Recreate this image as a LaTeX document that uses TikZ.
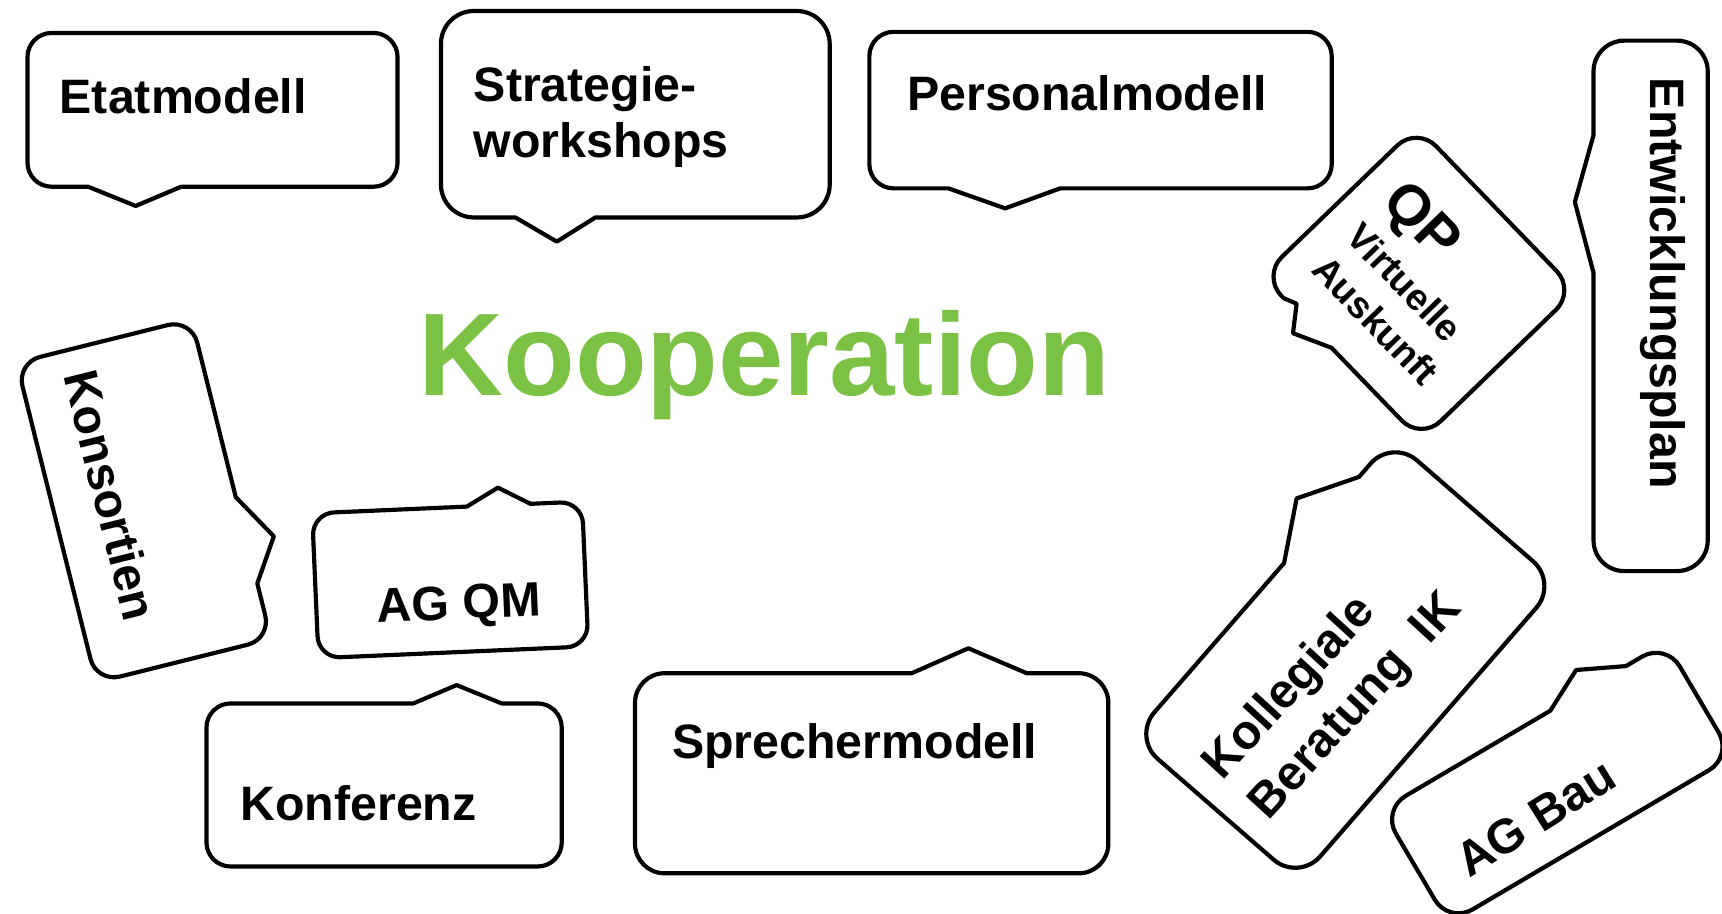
\documentclass[tikz,border=0pt]{standalone}
\usepackage{fontspec}
\setmainfont{Liberation Sans}
\usepackage{pdfrender}
\usetikzlibrary{shadows}
\definecolor{koopgreen}{HTML}{7BC144}
\definecolor{koopdark}{HTML}{4E8E2A}
\tikzset{
  bx/.style={draw=black, line width=1.9pt, fill=white, line join=round,
    drop shadow={shadow xshift=0.7pt, shadow yshift=-0.7pt, opacity=0.35, fill=black}},
  lbl/.style={inner sep=0pt, font=\bfseries\fontsize{22}{26}\selectfont, text=black},
  smalllbl/.style={inner sep=0pt, font=\bfseries\fontsize{17}{21.5}\selectfont, text=black},
  bigword/.style={inner sep=0pt, anchor=base, font=\bfseries\fontsize{53.5}{60}\selectfont},
}
\begin{document}
\begin{tikzpicture}[x=0.5pt,y=-0.5pt]
\useasboundingbox (0,0) rectangle (1568,832);
\fill[white] (0,0) rectangle (1568,832);

% Etatmodell
\begin{scope}[shift={(193.5,100)}]
\draw[bx] (0,-70) [rounded corners=11pt] -- (168.5,-70) -- (168.5,70) [sharp corners] -- (-28.5,70) -- (-70,87.5) -- (-113.2,70) [rounded corners=11pt] -- (-168.5,70) -- (-168.5,-70) -- cycle;
\end{scope}
\node[lbl, anchor=base west] (etat) at (54,103) {Etatmodell};

% Strategie-workshops
\begin{scope}[shift={(578.5,104)}]
\draw[bx] (0,-94) [rounded corners=15pt] -- (177,-94) -- (177,94) [sharp corners] -- (-36.4,94) -- (-71.5,116) -- (-109.2,94) [rounded corners=15pt] -- (-177,94) -- (-177,-94) -- cycle;
\end{scope}
\node[lbl, anchor=base west] (strat1) at (431,92) {Strategie-};
\node[lbl, anchor=base west] (strat2) at (431,143) {workshops};

% Personalmodell
\begin{scope}[shift={(1002.1,100.25)}]
\draw[bx] (0,-71.25) [rounded corners=11pt] -- (210.5,-71.25) -- (210.5,71.25) [sharp corners] -- (-36.8,71.25) -- (-86.9,89.45) -- (-138.5,71.25) [rounded corners=11pt] -- (-210.5,71.25) -- (-210.5,-71.25) -- cycle;
\end{scope}
\node[lbl, anchor=base west] (pers) at (825.6,100.2) {Personalmodell};

% Entwicklungsplan
\begin{scope}[shift={(1503,278.5)}]
\draw[bx] (0,-241.5) [rounded corners=14pt] -- (52,-241.5) -- (52,241.5) -- (-52,241.5) [sharp corners] -- (-52,-30.1) -- (-69,-94.5) -- (-52,-155.5) [rounded corners=14pt] -- (-52,-241.5) -- cycle;
\end{scope}
\node[lbl, rotate=-90] (entw) at (1514,258) {Entwicklungsplan};

% Konsortien
\begin{scope}[shift={(131,456)},rotate=14]
\draw[bx] (0,-150) [rounded corners=11pt] -- (82,-150) [sharp corners] -- (82,17) -- (107,60) -- (82,98) [rounded corners=11pt] -- (82,150) -- (-82,150) -- (-82,-150) -- cycle;
\node[lbl, rotate=-76] (kons) at (-28,-12) {Konsortien};
\end{scope}

% AG QM
\begin{scope}[shift={(410,528)},rotate=2.5]
\draw[bx] (0,66) [rounded corners=10pt] -- (-123,66) -- (-123,-66) [sharp corners] -- (18,-66) -- (47,-82) -- (76,-66) [rounded corners=10pt] -- (123,-66) -- (123,66) -- cycle;
\node[lbl, rotate=2.5] (agqm) at (7,25) {AG QM};
\end{scope}

% Konferenz
\begin{scope}[shift={(349.75,714.75)}]
\draw[bx] (0,74.25) [rounded corners=11pt] -- (-161.75,74.25) -- (-161.75,-74.25) [sharp corners] -- (26.65,-74.25) -- (66.05,-90.95) -- (107.05,-74.25) [rounded corners=11pt] -- (161.75,-74.25) -- (161.75,74.25) -- cycle;
\end{scope}
\node[lbl, anchor=base west] (konf) at (218.5,746.7) {Konferenz};

% Sprechermodell
\begin{scope}[shift={(793.7,704.1)}]
\draw[bx] (0,91.1) [rounded corners=13.5pt] -- (-215.5,91.1) -- (-215.5,-91.1) [sharp corners] -- (36.5,-91.1) -- (88,-113.8) -- (141.2,-91.1) [rounded corners=13.5pt] -- (215.5,-91.1) -- (215.5,91.1) -- cycle;
\end{scope}
\node[lbl, anchor=base west] (sprech) at (611.6,690.5) {Sprechermodell};

% QP Virtuelle Auskunft
\begin{scope}[shift={(1292,258)},rotate=-46]
\draw[bx] (0,-98) [rounded corners=12.5pt] -- (104,-98) -- (104,98) [sharp corners] -- (-13,98) -- (-47,114) -- (-64,93) -- (-76,98) [rounded corners=12.5pt] -- (-104,98) -- (-104,-98) -- cycle;
\node[smalllbl, align=left, anchor=north west, rotate=-46] (qp) at (-77,-62) {{\fontsize{26}{26}\selectfont QP}\\[1.5pt]Virtuelle\\Auskunft};
\end{scope}

% Kollegiale Beratung IK
\begin{scope}[shift={(1225,601)},rotate=49]
\draw[bx] (0,100) [rounded corners=15pt] -- (-180,100) -- (-180,-100) [sharp corners] -- (30,-100) -- (82,-130) -- (134,-100) [rounded corners=15pt] -- (180,-100) -- (180,100) -- cycle;
\node[lbl, anchor=base west, rotate=47.5] (koll1) at (-157,-12) {Kollegiale};
\node[lbl, anchor=base west, rotate=47.5] (koll2) at (-157,43.5) {Beratung\ \ IK};
\end{scope}

% AG Bau
\begin{scope}[shift={(1418,713)},rotate=30.5]
\draw[bx] (0,60) [rounded corners=12.5pt] -- (-150,60) -- (-150,-60) [sharp corners] -- (28,-60) -- (67,-80) -- (108,-60) [rounded corners=12.5pt] -- (150,-60) -- (150,60) -- cycle;
\node[lbl, rotate=32] (agbau) at (-33,17) {AG Bau};
\end{scope}

% Kooperation
\node[bigword, text=koopgreen] (koop) at (696,360) {\textpdfrender{TextRenderingMode=FillStroke,LineWidth=1,StrokeColor=koopdark}{Kooperation}};
\end{tikzpicture}
\end{document}
